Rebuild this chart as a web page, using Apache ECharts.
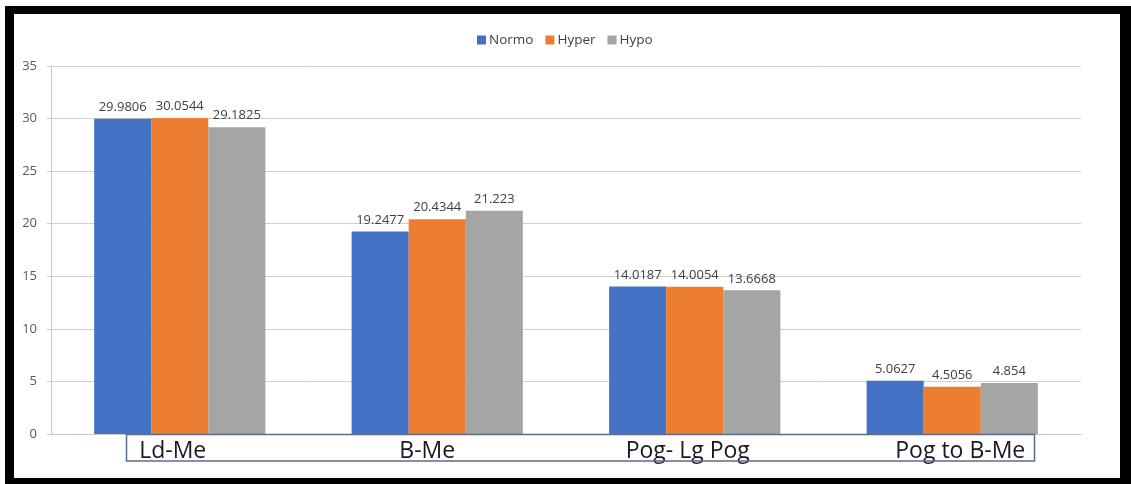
<!DOCTYPE html>
<html>
<head>
<meta charset="utf-8">
<script src="https://cdn.jsdelivr.net/npm/echarts@6/dist/echarts.min.js"></script>
<style>
  html, body { margin: 0; padding: 0; background: #ffffff; }
  #chart { width: 1131px; height: 484px; }
</style>
</head>
<body>
<div id="chart"></div>
<script>
// Measurements per group
const categories = ['Ld-Me', 'B-Me', 'Pog- Lg Pog', 'Pog to B-Me'];
const normo = [29.9806, 19.2477, 14.0187, 5.0627];
const hyper = [30.0544, 20.4344, 14.0054, 4.5056];
const hypo = [29.1825, 21.223, 13.6668, 4.854];
const yTicks = [0, 5, 10, 15, 20, 25, 30, 35];

// small horizontal nudges of each category caption [left, right padding]
const captionPad = [[0, 14], [0, 20], [0, 14], [16, 0]];

const chart = echarts.init(document.getElementById('chart'));

const rich = {};
captionPad.forEach((p, i) => {
  rich['c' + i] = {
    fontSize: 23,
    color: '#1a1a1a',
    fontFamily: 'Open Sans',
    padding: [0, p[1], 0, p[0]]
  };
});

const labelStyle = {
  show: true,
  position: 'top',
  distance: 5,
  fontSize: 13,
  color: '#404040',
  fontFamily: 'Open Sans'
};

function makeSeries(name, data, color) {
  return {
    name: name,
    type: 'bar',
    data: data,
    barGap: '0%',
    barCategoryGap: '33.5%',
    itemStyle: { color: color },
    label: labelStyle
  };
}

chart.setOption({
  animation: false,
  backgroundColor: '#ffffff',
  textStyle: { fontFamily: 'Open Sans' },
  legend: {
    top: 28,
    left: 472,
    itemWidth: 9,
    itemHeight: 9,
    itemGap: 12,
    icon: 'rect',
    textStyle: { fontSize: 13.5, color: '#404040', padding: [0, 0, 0, -2] },
    data: ['Normo', 'Hyper', 'Hypo']
  },
  grid: { left: 51, right: 50, top: 66, bottom: 50, containLabel: false },
  xAxis: {
    type: 'category',
    data: categories,
    axisLine: { show: true, lineStyle: { color: '#c8c8c8', width: 1 } },
    axisTick: { show: false },
    axisLabel: {
      margin: 6,
      interval: 0,
      formatter: (v, i) => '{c' + i + '|' + v + '}',
      rich: rich
    }
  },
  yAxis: {
    type: 'value',
    min: yTicks[0],
    max: yTicks[yTicks.length - 1],
    interval: yTicks[1] - yTicks[0],
    axisLine: { show: true, lineStyle: { color: '#c8c8c8' } },
    axisTick: { show: true, length: 4, lineStyle: { color: '#c8c8c8' } },
    axisLabel: { margin: 14, fontSize: 13, color: '#595959' },
    splitLine: { lineStyle: { color: '#d0d0d0', width: 1 } }
  },
  series: [
    makeSeries('Normo', normo, '#4472C4'),
    makeSeries('Hyper', hyper, '#ED7D31'),
    makeSeries('Hypo', hypo, '#A5A5A5')
  ],
  graphic: [
    // caption box under the category axis
    {
      type: 'rect',
      shape: { x: 126.5, y: 434.5, width: 908, height: 26.5 },
      style: { fill: 'none', stroke: '#5a6e8c', lineWidth: 1.5 },
      z: 10
    },
    // black picture frame
    { type: 'rect', shape: { x: 5, y: 6, width: 1126, height: 8 }, style: { fill: '#000' }, z: 20 },
    { type: 'rect', shape: { x: 5, y: 6, width: 9, height: 478 }, style: { fill: '#000' }, z: 20 },
    { type: 'rect', shape: { x: 1120, y: 6, width: 11, height: 478 }, style: { fill: '#000' }, z: 20 },
    { type: 'rect', shape: { x: 5, y: 478, width: 1126, height: 6 }, style: { fill: '#000' }, z: 20 }
  ]
});
</script>
</body>
</html>
